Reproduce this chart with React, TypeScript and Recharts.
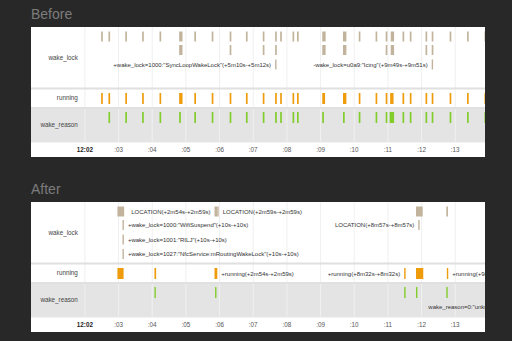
import {
  ComposedChart,
  XAxis,
  YAxis,
  ReferenceArea,
  ReferenceLine,
  ReferenceDot,
} from "recharts";

// x is seconds after 12:00:00, y is the pixel row inside the plot
const minuteTicks = [120, 180, 240, 300, 360, 420, 480, 540, 600, 660, 720, 780];
const tickLabels = ["12:02", ":03", ":04", ":05", ":06", ":07", ":08", ":09", ":10", ":11", ":12", ":13"];
const rowNames = ["wake_lock", "running", "wake_reason"];

type Span = [number, number];
type Tagged = { from: number; to: number; lane: number; text: string; side: "left" | "right" };
type Note = { at: number; lane: number; text: string };

// Before: seconds after 12:02:29
const beforeStart = 149;
const beforeLockTop: Span[] = [
  [0, 3], [13, 16], [43, 46], [73, 76], [104, 107], [139, 145], [166, 169], [197, 200],
  [229, 232], [258, 261], [288, 291], [310, 313], [319, 322], [341, 344], [349, 352],
  [394, 400], [431, 437], [459, 462], [489, 492], [507, 510], [516, 522], [537, 540],
  [550, 553], [578, 581], [589, 592], [621, 624], [652, 655], [683, 686],
];
const beforeLockSecond: Span[] = [
  [139, 145], [229, 232], [288, 291], [310, 313], [394, 400], [431, 437],
  [507, 510], [516, 522], [578, 581], [589, 592],
];
const beforeLockTagged: Tagged[] = [
  { from: 310, to: 312, lane: 2, text: '+wake_lock=1000:"SyncLoopWakeLock"(+5m10s-+5m12s)', side: "left" },
  { from: 589, to: 591, lane: 2, text: '-wake_lock=u0a9:"Icing"(+9m49s-+9m51s)', side: "left" },
];
const beforeRunning: Span[] = [
  [0, 3], [13, 16], [43, 46], [73, 76], [104, 107], [139, 145], [166, 169], [197, 200],
  [229, 232], [258, 261], [288, 291], [310, 313], [319, 322], [341, 344], [349, 352],
  [394, 399], [431, 437], [459, 462], [489, 492], [507, 510], [515, 521], [537, 540],
  [550, 553], [578, 581], [589, 592], [621, 624], [652, 655], [683, 686],
];
const beforeWakeReason: Span[] = [
  [13, 16], [43, 46], [73, 76], [104, 107], [139, 142], [166, 169], [197, 200],
  [229, 232], [258, 261], [288, 291], [310, 313], [319, 322], [341, 344], [349, 352],
  [394, 397], [431, 434], [459, 462], [489, 492], [507, 510], [514, 522], [537, 540],
  [550, 553], [578, 581], [589, 592], [621, 624], [652, 655], [683, 686],
];

// After: seconds after 12:02:57
const afterStart = 177;
const afterLockTop: Span[] = [[1, 13], [533, 545], [587, 590]];
const afterLockTagged: Tagged[] = [
  { from: 174, to: 179, lane: 0, text: "LOCATION(+2m54s-+2m59s)", side: "left" },
  { from: 179, to: 179, lane: 0, text: "LOCATION(+2m59s-+2m59s)", side: "right" },
  { from: 10, to: 10, lane: 1, text: '+wake_lock=1000:"WifiSuspend"(+10s-+10s)', side: "right" },
  { from: 537, to: 537, lane: 1, text: "LOCATION(+8m57s-+8m57s)", side: "left" },
  { from: 10, to: 10, lane: 2, text: '+wake_lock=1001:"RILJ"(+10s-+10s)', side: "right" },
  { from: 10, to: 10, lane: 3, text: '+wake_lock=1027:"NfcService:mRoutingWakeLock"(+10s-+10s)', side: "right" },
];
const afterRunning: Span[] = [[1, 12], [67, 70], [533, 546]];
const afterRunningTagged: Tagged[] = [
  { from: 174, to: 179, lane: 0, text: "+running(+2m54s-+2m59s)", side: "right" },
  { from: 512, to: 512, lane: 0, text: "+running(+8m32s-+8m32s)", side: "left" },
  { from: 588, to: 588, lane: 0, text: "+running(+9m48s-+9m48s)", side: "right" },
];
const afterWakeReason: Span[] = [[67, 69], [175, 177], [512, 514], [533, 535], [587, 589]];
const afterNotes: Note[] = [{ at: 555, lane: 1, text: 'wake_reason=0:"unknown"(+9m47s-+9m47s)' }];

// layout
const FONT = "'Liberation Sans', Arial, sans-serif";
const X_DOMAIN: [number, number] = [24, 833];
const PLOT_H = 115;
const ROWS: Span[] = [[0, 61.5], [61.5, 81], [81, 115]];
const LOCK_LANES: Span[] = [[4.5, 14.5], [18, 28], [32.5, 42.5], [47, 57]];
const RUN_LANES: Span[] = [[66, 77]];
const REASON_LANES: Span[] = [[85, 96], [100, 110]];
const MIN_SPAN = 2.5;

const LOCK_COLOR = "#c2b49c";
const RUN_COLOR = "#ee9b0c";
const REASON_COLOR = "#82cc2c";

const MinuteTick = (props: any) => {
  const { x, y, payload } = props;
  const i = minuteTicks.indexOf(payload.value);
  const first = i === 0;
  return (
    <text
      x={x}
      y={y}
      dy="0.71em"
      textAnchor="middle"
      fontSize={6.3}
      fontFamily={FONT}
      fontWeight={first ? 700 : 400}
      fill={first ? "#222" : "#555"}
    >
      {tickLabels[i]}
    </text>
  );
};

type PanelProps = {
  start: number;
  lock: Span[][];
  lockTagged: Tagged[];
  running: Span[];
  runningTagged: Tagged[];
  reason: Span[];
  notes: Note[];
};

function Timeline(p: PanelProps) {
  const mark = (
    key: string,
    from: number,
    to: number,
    band: Span,
    color: string,
    text?: string,
    side?: "left" | "right"
  ) => (
    <ReferenceArea
      key={key}
      x1={p.start + from}
      x2={p.start + Math.max(to, from + MIN_SPAN)}
      y1={band[0]}
      y2={band[1]}
      fill={color}
      fillOpacity={1}
      stroke="none"
      ifOverflow="hidden"
      label={
        text
          ? { value: text, position: side, offset: 4, fontSize: 6, fill: "#333", fontFamily: FONT }
          : undefined
      }
    />
  );

  return (
    <ComposedChart width={454} height={130} margin={{ top: 0, right: 0, bottom: 0, left: 0 }}>
      <XAxis
        type="number"
        dataKey="x"
        domain={X_DOMAIN}
        ticks={minuteTicks}
        interval={0}
        allowDataOverflow
        axisLine={false}
        tickLine={false}
        tickSize={0}
        tickMargin={6}
        height={15}
        tick={<MinuteTick />}
      />
      <YAxis type="number" domain={[0, PLOT_H]} reversed hide allowDataOverflow />

      <ReferenceArea
        x1={X_DOMAIN[0]}
        x2={X_DOMAIN[1]}
        y1={ROWS[2][0]}
        y2={ROWS[2][1]}
        fill="#e4e4e4"
        fillOpacity={1}
        stroke="none"
      />
      {minuteTicks.map((t) => (
        <ReferenceArea
          key={`g${t}`}
          x1={t - 0.9}
          x2={t + 0.9}
          y1={0}
          y2={PLOT_H}
          fill="#f0f0f0"
          fillOpacity={1}
          stroke="none"
        />
      ))}
      <ReferenceLine y={ROWS[0][1]} stroke="#e0e0e0" strokeWidth={2} />
      <ReferenceLine y={ROWS[1][1]} stroke="#e0e0e0" strokeWidth={2} />
      <ReferenceLine y={ROWS[2][1]} stroke="#e6e6e6" strokeWidth={1} />

      {rowNames.map((name, i) => (
        <ReferenceArea
          key={name}
          x1={X_DOMAIN[0]}
          x2={minuteTicks[0]}
          y1={ROWS[i][0]}
          y2={ROWS[i][1]}
          fill="none"
          stroke="none"
          label={{ value: name, position: "insideRight", offset: 7, fontSize: 6.3, fill: "#444", fontFamily: FONT }}
        />
      ))}

      {p.lock.map((lane, li) =>
        lane.map(([a, b], k) => mark(`l${li}-${k}`, a, b, LOCK_LANES[li], LOCK_COLOR))
      )}
      {p.lockTagged.map((m, k) =>
        mark(`lt${k}`, m.from, m.to, LOCK_LANES[m.lane], LOCK_COLOR, m.text, m.side)
      )}
      {p.running.map(([a, b], k) => mark(`r${k}`, a, b, RUN_LANES[0], RUN_COLOR))}
      {p.runningTagged.map((m, k) =>
        mark(`rt${k}`, m.from, m.to, RUN_LANES[m.lane], RUN_COLOR, m.text, m.side)
      )}
      {p.reason.map(([a, b], k) => mark(`w${k}`, a, b, REASON_LANES[0], REASON_COLOR))}
      {p.notes.map((n, k) => (
        <ReferenceDot
          key={`n${k}`}
          x={p.start + n.at}
          y={(REASON_LANES[n.lane][0] + REASON_LANES[n.lane][1]) / 2}
          r={0}
          stroke="none"
          fill="none"
          label={{ value: n.text, position: "right", offset: 0, fontSize: 6, fill: "#333", fontFamily: FONT }}
        />
      ))}
    </ComposedChart>
  );
}

const titleStyle = {
  position: "absolute" as const,
  left: 31,
  fontFamily: FONT,
  fontSize: 14,
  lineHeight: "16px",
  color: "#7c7c7c",
};

const panelStyle = {
  position: "absolute" as const,
  left: 31,
  width: 454,
  height: 130,
  background: "#fff",
  overflow: "hidden",
};

export default function App() {
  return (
    <div
      style={{
        position: "absolute",
        left: 0,
        top: 0,
        width: 512,
        height: 341,
        background: "#282828",
        overflow: "hidden",
      }}
    >
      <div style={{ ...titleStyle, top: 6 }}>Before</div>
      <div style={{ ...panelStyle, top: 27 }}>
        <Timeline
          start={beforeStart}
          lock={[beforeLockTop, beforeLockSecond]}
          lockTagged={beforeLockTagged}
          running={beforeRunning}
          runningTagged={[]}
          reason={beforeWakeReason}
          notes={[]}
        />
      </div>
      <div style={{ ...titleStyle, top: 181 }}>After</div>
      <div style={{ ...panelStyle, top: 202 }}>
        <Timeline
          start={afterStart}
          lock={[afterLockTop]}
          lockTagged={afterLockTagged}
          running={afterRunning}
          runningTagged={afterRunningTagged}
          reason={afterWakeReason}
          notes={afterNotes}
        />
      </div>
    </div>
  );
}
